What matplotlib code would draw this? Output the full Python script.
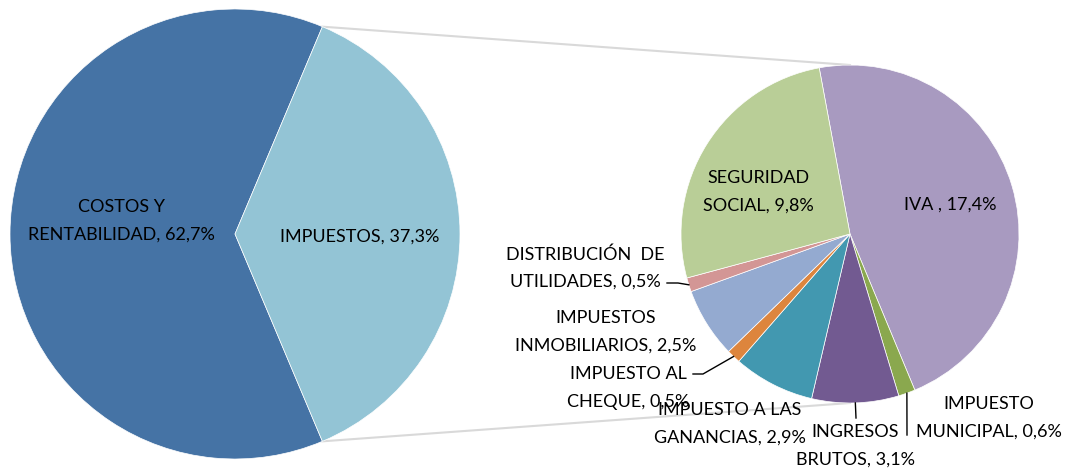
import numpy as np
import matplotlib
matplotlib.use('Agg')
import matplotlib.pyplot as plt

plt.rcParams['font.family'] = ['Lato', 'DejaVu Sans']

# main pie
main_names = ['COSTOS Y\nRENTABILIDAD', 'IMPUESTOS']
main_vals = [62.7, 37.3]
main_colors = ['#4573A5', '#93C4D5']

# breakdown of taxes
tax_names = ['IVA ', 'IMPUESTO\nMUNICIPAL', 'INGRESOS\nBRUTOS', 'IMPUESTO A LAS\nGANANCIAS',
             'IMPUESTO AL\nCHEQUE', 'IMPUESTOS\nINMOBILIARIOS', 'DISTRIBUCIÓN  DE\nUTILIDADES',
             'SEGURIDAD\nSOCIAL']
tax_vals = [17.4, 0.6, 3.1, 2.9, 0.5, 2.5, 0.5, 9.8]
tax_colors = ['#A89AC0', '#8AA84E', '#725A91', '#4298B0', '#DD853D', '#94AAD0', '#D39695', '#B9CE97']

W, H = 1077, 475


def fmt(name, v):
    return f'{name}, {v:.1f}%'.replace('.', ',')


fig = plt.figure(figsize=(W / 100, H / 100), dpi=100)
ax = fig.add_axes([0, 0, 1, 1])

# pixel layout (y measured from top)
c1, r1 = (235, 234), 225
c2, r2 = (850, 234), 169
start1 = main_vals[1] / 100 * 180
start2 = 100.5

ax.pie(main_vals, colors=main_colors, startangle=start1, radius=r1,
       center=(c1[0], H - c1[1]), wedgeprops=dict(edgecolor='white', linewidth=0.5))
ax.pie(tax_vals, colors=tax_colors, startangle=start2, counterclock=False, radius=r2,
       center=(c2[0], H - c2[1]), wedgeprops=dict(edgecolor='white', linewidth=0.5))
ax.set_xlim(0, W)
ax.set_ylim(0, H)
ax.set_aspect('equal')
ax.axis('off')

# connector lines
a = np.deg2rad(start1)
for s in (1, -1):
    x0 = c1[0] + r1 * np.cos(a)
    y0 = H - c1[1] + s * r1 * np.sin(a)
    ax.plot([x0, c2[0]], [y0, H - c2[1] + s * r2], color='#D9D9D9', lw=1.5, zorder=0)

fs = 13
ls = 1.85
ax.text(121, H - 221, fmt(main_names[0], main_vals[0]), ha='center', va='center',
        fontsize=fs, linespacing=ls)
ax.text(360, H - 237, fmt(main_names[1], main_vals[1]), ha='center', va='center',
        fontsize=fs, linespacing=ls)

# label anchor positions for the tax pie (pixel coords from top)
label_pos = [(950, 205), (989, 418), (855, 446), (730, 424),
             (628, 388), (606, 332), (585, 268), (758, 192)]
# leader line ends (None = no leader)
leader_end = [None, [(907, 435)], [(856, 418)], None,
              [(703, 374), (693, 374)], None, [(678, 283), (667, 283)], None]

cum = np.cumsum([0] + tax_vals)
tot = sum(tax_vals)
for i, (n, v) in enumerate(zip(tax_names, tax_vals)):
    ax.text(label_pos[i][0], H - label_pos[i][1], fmt(n, v), ha='center', va='center',
            fontsize=fs, linespacing=ls)
    if leader_end[i]:
        mid = np.deg2rad(start2 - (cum[i] + v / 2) / tot * 360)
        xs = [c2[0] + r2 * np.cos(mid)] + [p[0] for p in leader_end[i]]
        ys = [H - c2[1] + r2 * np.sin(mid)] + [H - p[1] for p in leader_end[i]]
        ax.plot(xs, ys, color='black', lw=1)

fig.savefig('out.png', dpi=100)
